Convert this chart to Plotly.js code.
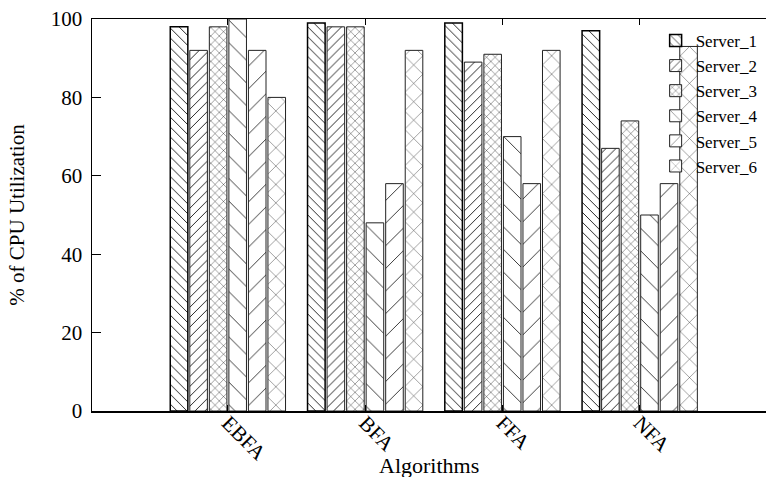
<!DOCTYPE html>
<html><head><meta charset="utf-8">
<script src="https://cdn.plot.ly/plotly-3.0.1.min.js"></script>
<style>html,body{margin:0;padding:0;background:#fff}#c{width:766px;height:477px}</style>
</head><body><div id="c"></div>
<script>
const algorithms = ["EBFA", "BFA", "FFA", "NFA"];
const serverNames = ["Server_1", "Server_2", "Server_3", "Server_4", "Server_5", "Server_6"];
const server1 = [98, 99, 99, 97];
const server2 = [92, 98, 89, 67];
const server3 = [98, 98, 91, 74];
const server4 = [100, 48, 70, 50];
const server5 = [92, 58, 58, 58];
const server6 = [80, 92, 92, 93];
const seriesValues = [server1, server2, server3, server4, server5, server6];

const patterns = [
  {shape: "\\", size: 7, solidity: 0.12, fg: "#000"},
  {shape: "/", size: 7, solidity: 0.12, fg: "#000"},
  {shape: "x", size: 6, solidity: 0.12, fg: "#000"},
  {shape: "\\", size: 16, solidity: 0.06, fg: "#333"},
  {shape: "/", size: 16, solidity: 0.06, fg: "#333"},
  {shape: "x", size: 13, solidity: 0.07, fg: "#333"}
];

const traces = seriesValues.map((vals, i) => ({
  type: "bar",
  name: serverNames[i],
  x: algorithms,
  y: vals,
  marker: {
    color: "white",
    line: {color: i === 0 ? "#000" : "#222", width: i === 0 ? 1.5 : 1},
    pattern: {shape: patterns[i].shape, size: patterns[i].size, solidity: patterns[i].solidity,
              fgcolor: patterns[i].fg, bgcolor: "white", fillmode: "replace"}
  },
  cliponaxis: true
}));

const font = {family: "Liberation Serif, Times New Roman, serif", color: "#000"};

const layout = {
  width: 766, height: 477,
  margin: {l: 92, r: 0, t: 19, b: 66},
  paper_bgcolor: "white", plot_bgcolor: "white",
  barmode: "group", bargap: 0.146, bargroupgap: 0.1,
  font: Object.assign({size: 21}, font),
  xaxis: {
    type: "category",
    range: [-0.99, 3.92],
    showline: true, linecolor: "#000", linewidth: 1.5, mirror: "ticks",
    ticks: "inside", ticklen: 6, tickcolor: "#000",
    tickangle: 45,
    ticklabelstandoff: -10,
    tickfont: Object.assign({size: 21}, font),
    showgrid: false, zeroline: false
  },
  yaxis: {
    range: [0, 100],
    tickvals: [0, 20, 40, 60, 80, 100],
    showline: true, linecolor: "#000", linewidth: 1.5,
    ticks: "inside", ticklen: 9, tickcolor: "#000",
    ticklabelstandoff: 4,
    tickfont: Object.assign({size: 21}, font),
    showgrid: false, zeroline: false,
    title: {text: "% of CPU Utilization", font: Object.assign({size: 21}, font), standoff: 20}
  },
  annotations: [{
    text: "Algorithms", xref: "paper", yref: "paper",
    x: 0.5, y: -0.175, xanchor: "center", yanchor: "bottom",
    showarrow: false, font: Object.assign({size: 22}, font)
  }],
  showlegend: true,
  legend: {
    x: 0.995, xanchor: "right", y: 0.99, yanchor: "top",
    bgcolor: "rgba(0,0,0,0)", borderwidth: 0,
    font: Object.assign({size: 17}, font),
    tracegroupgap: 0, itemwidth: 30
  }
};

Plotly.newPlot("c", traces, layout, {displayModeBar: false, staticPlot: true});
</script>
</body></html>
